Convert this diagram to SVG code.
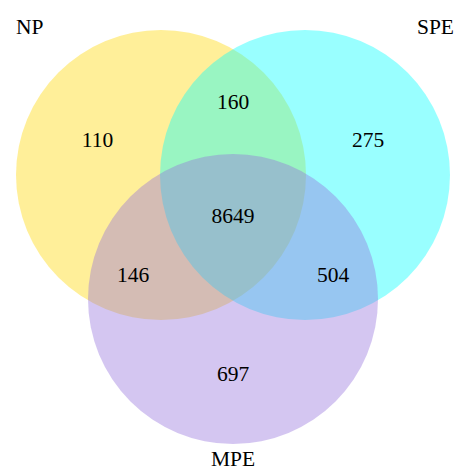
<svg xmlns="http://www.w3.org/2000/svg" width="457" height="468" viewBox="0 0 457 468">
<style>
.set{fill-opacity:0.4;stroke:none}
text{font-family:"Liberation Serif","Times New Roman",serif;font-size:21.5px;fill:#000;text-anchor:middle}
</style>
<rect width="457" height="468" fill="#fff"/>
<g id="NP"><circle class="set" cx="161" cy="175" r="145" fill="#FFD700"/></g>
<g id="SPE"><circle class="set" cx="305" cy="175" r="145" fill="#00FFFF"/></g>
<g id="MPE"><circle class="set" cx="233" cy="299" r="145" fill="#9370DB"/></g>
<g id="connectors"></g>
<g id="labels">
<text x="16" y="34" style="text-anchor:start">NP</text>
<text x="454" y="34" style="text-anchor:end">SPE</text>
<text x="233" y="466">MPE</text>
<text x="97.5" y="146.5">110</text>
<text x="233" y="109">160</text>
<text x="368" y="146.5">275</text>
<text x="233" y="223">8649</text>
<text x="133" y="282">146</text>
<text x="333" y="282">504</text>
<text x="233" y="381">697</text>
</g>
</svg>
